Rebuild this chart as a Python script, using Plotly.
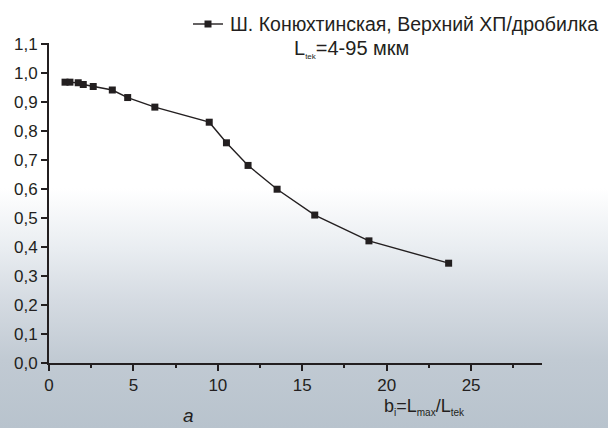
import base64
import plotly.graph_objects as go

# Fraction of particles vs. size ratio b_i = L_max / L_tek
b_ratio = [0.95, 1.24, 1.73, 2.03, 2.62, 3.75, 4.66, 6.27, 9.49,
           10.51, 11.79, 13.51, 15.74, 18.95, 23.67]
share = [0.968, 0.968, 0.966, 0.960, 0.953, 0.941, 0.915, 0.882, 0.830,
         0.759, 0.681, 0.599, 0.510, 0.421, 0.344]

series_name = "Ш. Конюхтинская, Верхний ХП/дробилка"
x_ticks = [0, 5, 10, 15, 20, 25]
y_ticks = [0.0, 0.1, 0.2, 0.3, 0.4, 0.5, 0.6, 0.7, 0.8, 0.9, 1.0, 1.1]
y_ticklabels = [f"{v:.1f}".replace(".", ",") for v in y_ticks]


def small(s, px):
    return f"<sub><span style='font-size:{px}px'>{s}</span></sub>"


size_range = "L" + small("tek", 8) + "=4-95 мкм"
x_title = "b" + small("i", 10) + "=L" + small("max", 10) + "/L" + small("tek", 10)
panel_label = "a"

W, H = 608, 428
L, R, T, B = 49, 66, 43, 65
pw, ph = W - L - R, H - T - B

FONT = "Liberation Sans, Arial, sans-serif"
INK = "#231f20"


def px_x(x):
    """figure pixel column -> paper x"""
    return (x - L) / pw


def px_y(y):
    """figure pixel row (from top) -> paper y"""
    return (H - B - y) / ph


# soft white-to-steel vertical backdrop
svg = f"""<svg xmlns='http://www.w3.org/2000/svg' width='{W}' height='{H}' preserveAspectRatio='none'>
<defs><linearGradient id='g' x1='0' y1='0' x2='0' y2='1'>
<stop offset='0' stop-color='#ffffff'/>
<stop offset='0.44' stop-color='#ffffff'/>
<stop offset='0.58' stop-color='#e9edf1'/>
<stop offset='0.70' stop-color='#d5dbe2'/>
<stop offset='0.84' stop-color='#c1cad3'/>
<stop offset='1' stop-color='#b8c3cd'/>
</linearGradient></defs>
<rect width='{W}' height='{H}' fill='url(#g)'/></svg>"""
bg_uri = "data:image/svg+xml;base64," + base64.b64encode(svg.encode()).decode()

fig = go.Figure()
fig.add_trace(go.Scatter(
    x=b_ratio, y=share, mode="lines+markers", name=series_name,
    line=dict(color=INK, width=1.4),
    marker=dict(symbol="square", size=7, color=INK),
    showlegend=False,
))

# legend key drawn by hand so it never pushes the margins
key_y = 24
key_x0, key_x1 = 193, 223
key_mid = (key_x0 + key_x1) / 2
shapes = [
    dict(type="line", xref="paper", yref="paper",
         x0=px_x(key_x0), x1=px_x(key_x1), y0=px_y(key_y), y1=px_y(key_y),
         line=dict(color=INK, width=1.4)),
    dict(type="rect", xref="paper", yref="paper",
         x0=px_x(key_mid - 3.5), x1=px_x(key_mid + 3.5),
         y0=px_y(key_y + 3.5), y1=px_y(key_y - 3.5),
         line=dict(width=0), fillcolor=INK),
]

fig.update_layout(
    width=W, height=H,
    margin=dict(l=L, r=R, t=T, b=B, pad=0),
    paper_bgcolor="white", plot_bgcolor="rgba(0,0,0,0)",
    font=dict(family=FONT, size=17, color=INK),
    showlegend=False,
    xaxis=dict(
        range=[0, 29.2], tickvals=x_ticks, ticks="outside", ticklen=6,
        tickwidth=2, tickcolor=INK, showline=True, linecolor=INK, linewidth=2,
        showgrid=False, zeroline=False, tickfont=dict(size=17),
        minor=dict(dtick=2.5, ticks="outside", ticklen=3, tickwidth=2,
                   tickcolor=INK, showgrid=False),
    ),
    yaxis=dict(
        range=[0, 1.103], tickvals=y_ticks, ticktext=y_ticklabels,
        ticks="outside", ticklen=6, tickwidth=2, tickcolor=INK,
        showline=True, linecolor=INK, linewidth=2,
        showgrid=False, zeroline=False, tickfont=dict(size=17),
    ),
    images=[dict(
        source=bg_uri, xref="paper", yref="paper",
        x=-L / pw, y=(H - B) / ph, sizex=W / pw, sizey=H / ph,
        xanchor="left", yanchor="top", sizing="stretch", layer="below",
    )],
    shapes=shapes,
    annotations=[
        dict(text=series_name, xref="paper", yref="paper",
             x=px_x(228), y=px_y(key_y), xanchor="left", yanchor="middle",
             showarrow=False, font=dict(size=19.5, color=INK)),
        dict(text=size_range, xref="paper", yref="paper",
             x=px_x(292), y=px_y(49), xanchor="left", yanchor="middle",
             showarrow=False, font=dict(size=20, color=INK)),
        dict(text=x_title, xref="paper", yref="paper",
             x=px_x(424), y=px_y(407), xanchor="center", yanchor="middle",
             showarrow=False, font=dict(size=18, color=INK)),
        dict(text=f"<i>{panel_label}</i>", xref="paper", yref="paper",
             x=px_x(188), y=px_y(H), xanchor="center", yanchor="bottom",
             showarrow=False, font=dict(size=19, color=INK)),
    ],
)

fig.write_html("out.html")
